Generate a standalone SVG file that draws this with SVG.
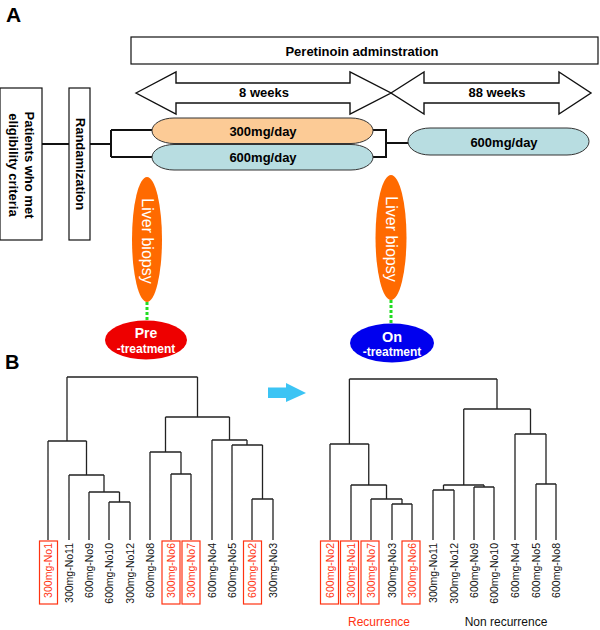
<svg xmlns="http://www.w3.org/2000/svg" width="600" height="630" viewBox="0 0 600 630">
<style>
text{font-family:"Liberation Sans",Arial,Helvetica,sans-serif}
.b{font-weight:bold}
.box{fill:#fff;stroke:#111;stroke-width:1.2}
.arr{fill:#fff;stroke:#111;stroke-width:1.4;stroke-linejoin:miter}
.ln{fill:none;stroke:#111;stroke-width:2}
.pill{stroke:#333;stroke-width:1}
.dg{fill:none;stroke:#222;stroke-width:1.3}
.lab{font-size:10.5px;fill:#111}
.red{fill:#FF3311}
.rb{fill:none;stroke:#FF3311;stroke-width:1.2}
.dot{stroke:#22DD22;stroke-width:3;stroke-dasharray:3 2}
.wt{fill:#fff}
</style>

<text x="6" y="22" class="b" font-size="21">A</text>
<text x="5" y="369" class="b" font-size="20">B</text>

<g id="admin">
<rect x="131" y="37" width="467" height="27" class="box" stroke-width="2"/>
<text x="362" y="56" class="b" font-size="13" text-anchor="middle">Peretinoin adminstration</text>
</g>

<g id="arrow8">
<polygon class="arr" points="136,93 176,72 176,83 350,83 350,72 391,93 350,114 350,103 176,103 176,114"/>
<text x="264" y="97" class="b" font-size="13" text-anchor="middle">8 weeks</text>
</g>
<g id="arrow88">
<polygon class="arr" points="391,93 424,72 424,83 559,83 559,72 591,93 559,114 559,103 424,103 424,114"/>
<text x="497" y="97" class="b" font-size="13" text-anchor="middle">88 weeks</text>
</g>

<g id="connectors">
<path class="ln" d="M42 144 H69 M90 144 H111 M111 130 V157 M111 130 H152 M111 157 H152 M373 130 H386 M373 157 H386 M386 129 V158 M386 143 H408"/>
<line class="dot" x1="147" y1="302" x2="147" y2="320"/>
<line class="dot" x1="391" y1="300" x2="391" y2="323"/>
</g>

<g id="patients">
<rect x="0" y="88" width="42" height="152" class="box"/>
<text transform="translate(25,165) rotate(90)" class="b" font-size="13" text-anchor="middle">Patients who met</text>
<text transform="translate(9,165) rotate(90)" class="b" font-size="13" text-anchor="middle">eligibility criteria</text>
</g>
<g id="randamization">
<rect x="69" y="88" width="21" height="152" class="box"/>
<text transform="translate(76,164) rotate(90)" class="b" font-size="13" text-anchor="middle">Randamization</text>
</g>

<g id="dose300">
<rect x="152" y="118" width="221" height="25.5" rx="22" ry="12.75" class="pill" fill="#FCCB96"/>
<text x="263" y="136" class="b" font-size="13" text-anchor="middle">300mg/day</text>
</g>
<g id="dose600a">
<rect x="152" y="144.5" width="221" height="25.5" rx="22" ry="12.75" class="pill" fill="#B8DDE1"/>
<text x="263" y="162" class="b" font-size="13" text-anchor="middle">600mg/day</text>
</g>
<g id="dose600b">
<rect x="408" y="128" width="181" height="27" rx="22" ry="13.5" class="pill" fill="#B8DDE1"/>
<text x="504" y="147" class="b" font-size="13" text-anchor="middle">600mg/day</text>
</g>

<g id="biopsy1">
<ellipse cx="147" cy="239.5" rx="15" ry="62.5" fill="#FF6A00"/>
<text transform="translate(141.5,241) rotate(90)" class="wt" font-size="16" text-anchor="middle">Liver biopsy</text>
</g>
<g id="biopsy2">
<ellipse cx="391" cy="237.5" rx="15.5" ry="62.5" fill="#FF6A00"/>
<text transform="translate(385.5,239) rotate(90)" class="wt" font-size="16" text-anchor="middle">Liver biopsy</text>
</g>
<g id="pre">
<ellipse cx="146" cy="340" rx="41" ry="19.5" fill="#EE0000"/>
<text x="146" y="338" class="b wt" font-size="14" text-anchor="middle">Pre</text>
<text x="146" y="353" class="b wt" font-size="12" text-anchor="middle">-treatment</text>
</g>
<g id="on">
<ellipse cx="392" cy="343" rx="42" ry="19.5" fill="#0000EE"/>
<text x="392" y="342" class="b wt" font-size="14.5" text-anchor="middle">On</text>
<text x="392" y="356" class="b wt" font-size="12" text-anchor="middle">-treatment</text>
</g>

<g id="cyan-arrow">
<polygon points="268,387.5 286,387.5 286,383 306,393 286,402 286,398 268,398" fill="#3CC4F4"/>
</g>

<g id="dendro-pre">
<path class="dg" d="M48 540V441 M69 540V475 M89 540V492 M109 540V502 M130 540V502 M150 540V452 M171 540V474 M191 540V474 M212 540V440 M232 540V445 M252 540V499 M273 540V499
M109 502H130 M119.5 502V492 M89 492H119.5 M104 492V475 M69 475H104 M86.5 475V441 M48 441H86.5 M67 441V377
M171 474H191 M181 474V452 M150 452H181 M165.5 452V417
M252 499H273 M262.5 499V445 M232 445H262.5 M247 445V440 M212 440H247 M229.5 440V417
M165.5 417H229.5 M197.5 417V377 M67 377H197.5"/>
<rect class="rb" x="39.5" y="541" width="18" height="63"/>
<rect class="rb" x="162" y="541" width="18" height="63"/>
<rect class="rb" x="182" y="541" width="18" height="63"/>
<rect class="rb" x="243.5" y="541" width="18" height="63"/>
<g class="lab" text-anchor="end">
<text transform="translate(52,543) rotate(-90)" class="red">300mg-No1</text>
<text transform="translate(73,543) rotate(-90)">300mg-No11</text>
<text transform="translate(93,543) rotate(-90)">600mg-No9</text>
<text transform="translate(113,543) rotate(-90)">600mg-No10</text>
<text transform="translate(134,543) rotate(-90)">300mg-No12</text>
<text transform="translate(154,543) rotate(-90)">600mg-No8</text>
<text transform="translate(175,543) rotate(-90)" class="red">300mg-No6</text>
<text transform="translate(195,543) rotate(-90)" class="red">300mg-No7</text>
<text transform="translate(216,543) rotate(-90)">600mg-No4</text>
<text transform="translate(236,543) rotate(-90)">600mg-No5</text>
<text transform="translate(256,543) rotate(-90)" class="red">600mg-No2</text>
<text transform="translate(277,543) rotate(-90)">300mg-No3</text>
</g>
</g>

<g id="dendro-on">
<path class="dg" d="M330 540V444 M351 540V485 M371 540V499 M392 540V504 M412 540V504 M433 540V490 M454 540V490 M474 540V487 M494 540V487 M515 540V434 M536 540V484 M556 540V484
M392 504H412 M402 504V499 M371 499H402 M386.5 499V485 M351 485H386.5 M368.75 485V444 M330 444H368.75 M349.4 444V379
M433 490H454 M443.5 490V485 M474 487H494 M484 487V485 M443.5 485H484 M463.75 485V409
M536 484H556 M546 484V434 M515 434H546 M530.5 434V409 M463.75 409H530.5 M497 409V379 M349.4 379H497"/>
<rect class="rb" x="320.5" y="541" width="18" height="63"/>
<rect class="rb" x="340.5" y="541" width="18" height="63"/>
<rect class="rb" x="361" y="541" width="18" height="63"/>
<rect class="rb" x="402" y="541" width="18" height="63"/>
<g class="lab" text-anchor="end">
<text transform="translate(334,543) rotate(-90)" class="red">600mg-No2</text>
<text transform="translate(355,543) rotate(-90)" class="red">300mg-No1</text>
<text transform="translate(375,543) rotate(-90)" class="red">300mg-No7</text>
<text transform="translate(396,543) rotate(-90)">300mg-No3</text>
<text transform="translate(416,543) rotate(-90)" class="red">300mg-No6</text>
<text transform="translate(437,543) rotate(-90)">300mg-No11</text>
<text transform="translate(458,543) rotate(-90)">300mg-No12</text>
<text transform="translate(478,543) rotate(-90)">600mg-No9</text>
<text transform="translate(498,543) rotate(-90)">600mg-No10</text>
<text transform="translate(519,543) rotate(-90)">600mg-No4</text>
<text transform="translate(540,543) rotate(-90)">600mg-No5</text>
<text transform="translate(560,543) rotate(-90)">600mg-No8</text>
</g>
<text x="379" y="626" font-size="12" text-anchor="middle" class="red">Recurrence</text>
<text x="506" y="626" font-size="12" text-anchor="middle" fill="#111">Non recurrence</text>
</g>
</svg>
